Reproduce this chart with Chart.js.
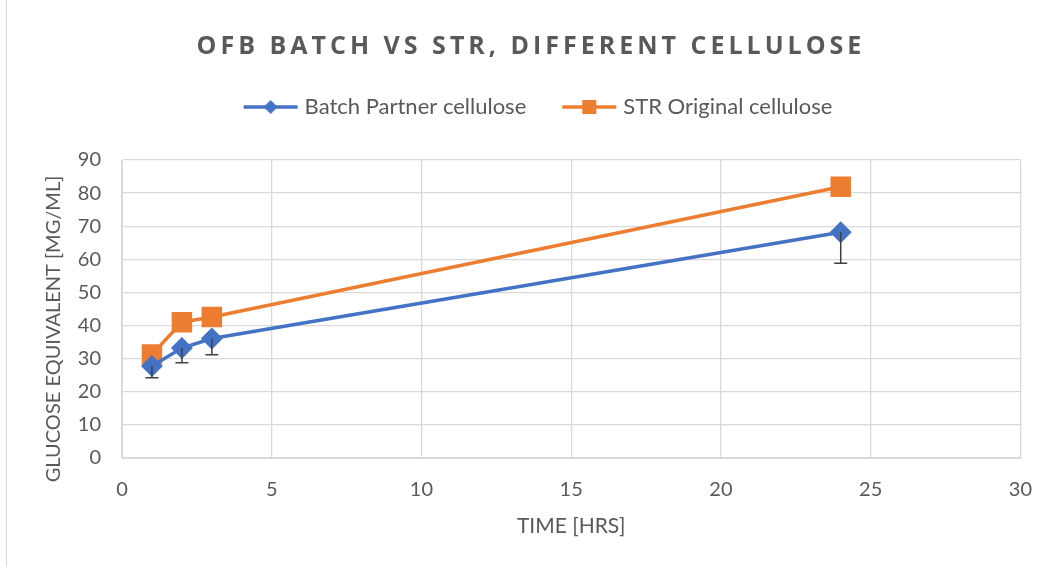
<!DOCTYPE html>
<html>
<head>
<meta charset="utf-8">
<script src="https://cdn.jsdelivr.net/npm/chart.js@4.4.1/dist/chart.umd.min.js"></script>
<style>
  body { margin: 0; background: #fff; }
  #wrap { position: relative; width: 1052px; height: 567px; }
  #frame { position: absolute; left: 6px; top: -2px; width: 1100px; height: 600px; border: 1px solid #d9d9d9; box-sizing: border-box; }
  #my-chart { position: absolute; left: 0; top: 0; }
  #title { position: absolute; left: 10px; right: 0; top: 27px; text-align: center;
    font: bold 25px "Open Sans", sans-serif; letter-spacing: 4px; color: #595959; }
</style>
</head>
<body>
<div id="wrap">
  <div id="frame"></div>
  <canvas id="my-chart" width="1052" height="567"></canvas>
  <div id="title">OFB BATCH VS STR, DIFFERENT CELLULOSE</div>
</div>
<script>
const hours = [1, 2, 3, 24];
const batchPartner = [27.8, 33.2, 36.1, 68.2];
const batchErr = [3.6, 4.4, 4.9, 9.4];
const strOriginal = [31.3, 41.0, 42.6, 81.9];
const yTitle = "GLUCOSE EQUIVALENT [MG/ML]";

const blue = "#4472C4";
const orange = "#ED7D31";
const textGrey = "#595959";

// legend icon: line with marker in the middle
function legendIcon(color, style) {
  const c = document.createElement("canvas");
  c.width = 56;
  c.height = 20;
  const g = c.getContext("2d");
  g.strokeStyle = color;
  g.lineWidth = 3.5;
  g.beginPath();
  g.moveTo(1, 10);
  g.lineTo(55, 10);
  g.stroke();
  g.fillStyle = color;
  if (style == "diamond") {
    g.beginPath();
    g.moveTo(28, 3);
    g.lineTo(35, 10);
    g.lineTo(28, 17);
    g.lineTo(21, 10);
    g.closePath();
    g.fill();
  } else {
    g.fillRect(21, 3, 14, 14);
  }
  return c;
}

const errorBars = {
  id: "errorBars",
  afterDatasetsDraw(chart) {
    const ctx = chart.ctx;
    const xs = chart.scales.x;
    const ys = chart.scales.y;
    ctx.save();
    ctx.strokeStyle = "#404040";
    ctx.lineWidth = 1.5;
    for (let i = 0; i < hours.length; i++) {
      const px = xs.getPixelForValue(hours[i]);
      const top = ys.getPixelForValue(batchPartner[i]);
      const bot = ys.getPixelForValue(batchPartner[i] - batchErr[i]);
      ctx.beginPath();
      ctx.moveTo(px, top);
      ctx.lineTo(px, bot);
      ctx.moveTo(px - 6.5, bot);
      ctx.lineTo(px + 6.5, bot);
      ctx.stroke();
    }
    ctx.restore();
  },
  // y axis title, placed like the excel one (a bit lower than the plot centre)
  afterDraw(chart) {
    const ctx = chart.ctx;
    const area = chart.chartArea;
    ctx.save();
    ctx.translate(54, (area.top + area.bottom) / 2 + 20);
    ctx.rotate(-Math.PI / 2);
    ctx.font = '20px "Lato"';
    ctx.fillStyle = textGrey;
    ctx.textAlign = "center";
    ctx.textBaseline = "middle";
    ctx.fillText(yTitle, 0, 0);
    ctx.restore();
  },
};

const myChart = document.getElementById("my-chart");

new Chart(myChart, {
  type: "line",
  data: {
    datasets: [
      {
        label: "Batch Partner cellulose",
        data: hours.map((h, i) => ({ x: h, y: batchPartner[i] })),
        borderColor: blue,
        backgroundColor: blue,
        borderWidth: 3.5,
        pointStyle: "rectRot",
        pointRadius: 8.5,
        pointHoverRadius: 8.5,
        tension: 0,
      },
      {
        label: "STR Original cellulose",
        data: hours.map((h, i) => ({ x: h, y: strOriginal[i] })),
        borderColor: orange,
        backgroundColor: orange,
        borderWidth: 3.5,
        pointStyle: "rect",
        pointRadius: 12,
        pointHoverRadius: 12,
        tension: 0,
      },
    ],
  },
  options: {
    responsive: false,
    animation: false,
    layout: { padding: { left: 58, right: 30, top: 56, bottom: 0 } },
    plugins: {
      legend: {
        display: true,
        position: "top",
        labels: {
          usePointStyle: true,
          pointStyleWidth: 46,
          boxHeight: 20,
          padding: 40,
          color: textGrey,
          font: { family: "Lato", size: 22 },
          generateLabels(chart) {
            return chart.data.datasets.map((ds, i) => ({
              text: ds.label,
              pointStyle: legendIcon(ds.borderColor, i == 0 ? "diamond" : "square"),
              fontColor: textGrey,
              lineWidth: 0,
              strokeStyle: "transparent",
              fillStyle: "transparent",
              datasetIndex: i,
            }));
          },
        },
      },
      // empty spacer between legend and plot
      subtitle: {
        display: true,
        text: "",
        weight: 500,
        font: { size: 10 },
        padding: { top: 20, bottom: 0 },
      },
      tooltip: { enabled: false },
    },
    scales: {
      x: {
        type: "linear",
        min: 0,
        max: 30,
        afterFit(scale) { scale.height = 109; },
        ticks: { stepSize: 5, color: textGrey, font: { family: "Lato", size: 20 }, padding: 20 },
        grid: { color: "#d9d9d9", lineWidth: 1.3, drawTicks: false },
        border: { color: "#d9d9d9" },
        title: { display: true, text: "TIME [HRS]", color: textGrey, font: { family: "Lato", size: 21 }, padding: { top: 0, bottom: 28 } },
      },
      y: {
        min: 0,
        max: 90,
        afterFit(scale) { scale.width = 64; },
        ticks: { stepSize: 10, color: textGrey, font: { family: "Lato", size: 20 }, padding: 21 },
        grid: { color: "#d9d9d9", lineWidth: 1.3, drawTicks: false },
        border: { color: "#d9d9d9" },
      },
    },
  },
  plugins: [errorBars],
});
</script>
</body>
</html>
